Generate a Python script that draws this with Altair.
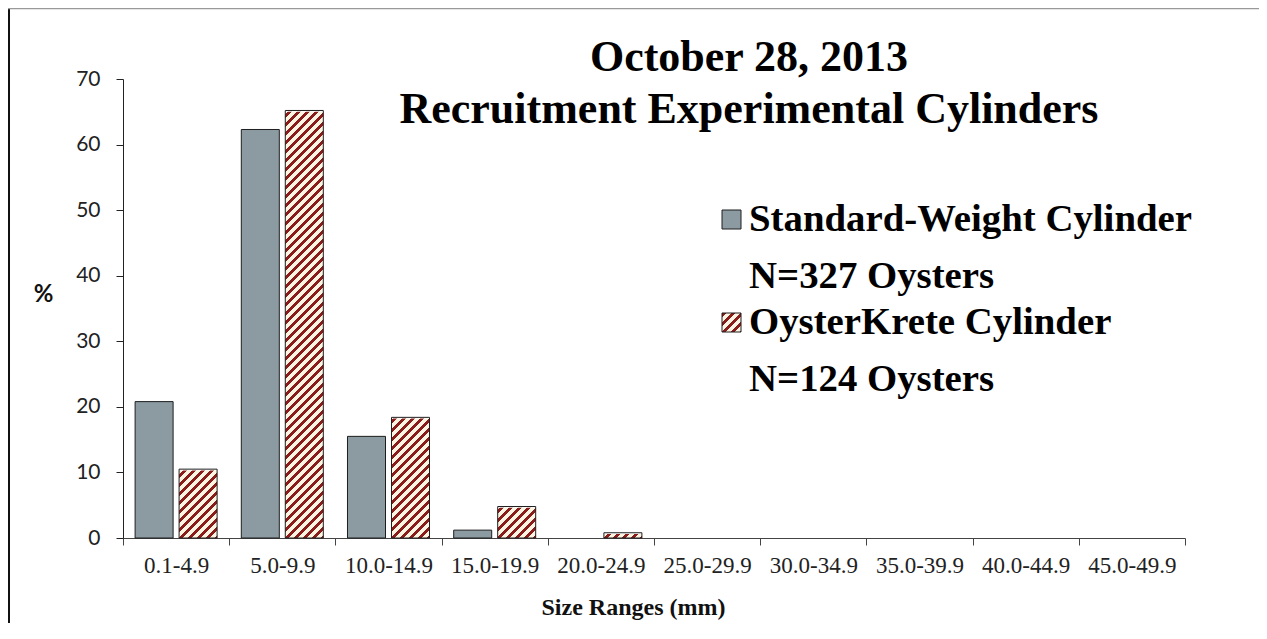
import altair as alt
import pandas as pd

# ---------------- data ----------------
categories = ["0.1-4.9", "5.0-9.9", "10.0-14.9", "15.0-19.9", "20.0-24.9",
              "25.0-29.9", "30.0-34.9", "35.0-39.9", "40.0-44.9", "45.0-49.9"]
standard_weight = [20.8, 62.3, 15.5, 1.2, 0.0, 0.0, 0.0, 0.0, 0.0, 0.0]
oysterkrete = [10.5, 65.2, 18.4, 4.8, 0.8, 0.0, 0.0, 0.0, 0.0, 0.0]
series_names = ["Standard-Weight Cylinder", "OysterKrete Cylinder"]
series_counts = ["N=327 Oysters", "N=124 Oysters"]
title_lines = ["October 28, 2013", "Recruitment Experimental Cylinders"]
y_ticks = [0, 10, 20, 30, 40, 50, 60, 70]
y_max = 70
stripe_top = 66

rows = []
for c, a, b in zip(categories, standard_weight, oysterkrete):
    rows.append({"category": c, "series": series_names[0], "value": a})
    rows.append({"category": c, "series": series_names[1], "value": b})
df = pd.DataFrame(rows)

# ---------------- layout / style ----------------
W, H = 1062, 459
OFF_PI, OFF_PO = 0.136, 0.275
step = W / len(categories)
off_step = step / (2 - OFF_PI + 2 * OFF_PO)
bar_w = off_step * (1 - OFF_PI)
stripe_h = H * stripe_top / y_max

GREY = "#8b9ba1"
DARK_RED = "#8b1c1c"
CREAM = "#fdf5e2"
EDGE = "#1e1e1e"
SERIF = "Liberation Serif"
SANS = "Lato"


def stripe_fill(w, h, period=9.0, dark_frac=0.45):
    s = (w + h) / (w * w + h * h)
    n = (w + h) / period
    stops = []
    k = 0
    while k / n < 1:
        t0 = k / n
        t1 = min((k + dark_frac) / n, 1.0)
        t2 = min((k + 1) / n, 1.0)
        stops += [alt.GradientStop(offset=t0, color=DARK_RED),
                  alt.GradientStop(offset=t1, color=DARK_RED),
                  alt.GradientStop(offset=t1, color=CREAM),
                  alt.GradientStop(offset=t2, color=CREAM)]
        k += 1
    return alt.LinearGradient(gradient="linear", stops=stops,
                              x1=0, y1=0, x2=s * w, y2=s * h)


x_enc = alt.X("category:N", sort=categories,
              scale=alt.Scale(domain=categories, paddingInner=0, paddingOuter=0),
              axis=alt.Axis(title="Size Ranges (mm)", labelAngle=0, tickBand="extent",
                            tickSize=7, labelFont=SERIF, labelFontSize=23,
                            labelColor="#222", labelPadding=9,
                            domainColor="#444", tickColor="#444", grid=False,
                            titleFont=SERIF, titleFontSize=24, titleFontWeight="bold",
                            titleColor="#111", titleX=510, titleY=76,
                            titleAlign="center", titleBaseline="alphabetic"))
xo_enc = alt.XOffset("series:N", sort=series_names,
                     scale=alt.Scale(domain=series_names,
                                     paddingInner=OFF_PI, paddingOuter=OFF_PO))
y_axis = alt.Axis(title="%", values=y_ticks, tickSize=7, labelFont=SANS,
                  labelFontSize=21, labelColor="#222", labelPadding=16,
                  domainColor="#222", tickColor="#222", grid=False,
                  titleAngle=0, titleX=-80, titleY=215, titleAlign="center",
                  titleBaseline="middle", titleFont=SANS, titleFontSize=24,
                  titleFontWeight="bold", titleColor="#111")
y_scale = alt.Scale(domain=[0, y_max])

is_ok = f"datum.series == '{series_names[1]}' && datum.value > 0"
is_sw = f"datum.series == '{series_names[0]}' && datum.value > 0"

grey_bars = alt.Chart().mark_bar(fill=GREY, stroke=EDGE, strokeWidth=1).encode(
    x=x_enc, xOffset=xo_enc, y=alt.Y("value:Q", scale=y_scale, axis=y_axis)
).transform_filter(is_sw)

stripes = alt.Chart().mark_bar(fill=stripe_fill(bar_w, stripe_h), strokeWidth=0).encode(
    x=x_enc, xOffset=xo_enc, y=alt.datum(stripe_top), y2=alt.datum(0)
).transform_filter(is_ok)

covers = alt.Chart().mark_bar(fill="white", stroke="white", strokeWidth=2.5).encode(
    x=x_enc, xOffset=xo_enc, y=alt.Y("value:Q"), y2=alt.datum(stripe_top)
).transform_filter(is_ok)

outlines = alt.Chart().mark_bar(fillOpacity=0, stroke=EDGE, strokeWidth=1).encode(
    x=x_enc, xOffset=xo_enc, y=alt.Y("value:Q")
).transform_filter(is_ok)

one = pd.DataFrame({"k": [0]})

title_text = alt.Chart(one).mark_text(
    text=title_lines, font=SERIF, fontSize=44, fontWeight="bold", color="#000",
    align="center", baseline="alphabetic", lineHeight=52
).encode(x=alt.value(626), y=alt.value(-8))

sw1 = alt.Chart(one).mark_rect(fill=GREY, stroke=EDGE, strokeWidth=1).encode(
    x=alt.value(599), x2=alt.value(618), y=alt.value(131), y2=alt.value(150))
sw2 = alt.Chart(one).mark_rect(fill=stripe_fill(19, 19), stroke=EDGE, strokeWidth=1).encode(
    x=alt.value(599), x2=alt.value(618), y=alt.value(234), y2=alt.value(253))

leg1 = alt.Chart(one).mark_text(
    text=[series_names[0], series_counts[0]], font=SERIF, fontSize=38.8, fontWeight="bold",
    color="#000", align="left", baseline="alphabetic", lineHeight=57
).encode(x=alt.value(626), y=alt.value(152))
leg2 = alt.Chart(one).mark_text(
    text=[series_names[1], series_counts[1]], font=SERIF, fontSize=38.8, fontWeight="bold",
    color="#000", align="left", baseline="alphabetic", lineHeight=57
).encode(x=alt.value(626), y=alt.value(255))

frame_left = alt.Chart(one).mark_rule(color="#111", strokeWidth=2).encode(
    x=alt.value(-114), y=alt.value(-71), y2=alt.value(544))
frame_top = alt.Chart(one).mark_rule(color="#999", strokeWidth=1.5).encode(
    x=alt.value(-115), x2=alt.value(1136), y=alt.value(-70.5))

chart = alt.layer(
    grey_bars, stripes, covers, outlines,
    title_text, sw1, sw2, leg1, leg2, frame_left, frame_top,
    data=df
).properties(
    width=W, height=H,
    autosize=alt.AutoSizeParams(type="none"),
    padding={"left": 115, "top": 71, "right": 74, "bottom": 85},
).configure(
    background="white",
    view=alt.ViewConfig(stroke="transparent", strokeWidth=0),
)

chart.save("out.html", embed_options={"renderer": "svg", "actions": False})
